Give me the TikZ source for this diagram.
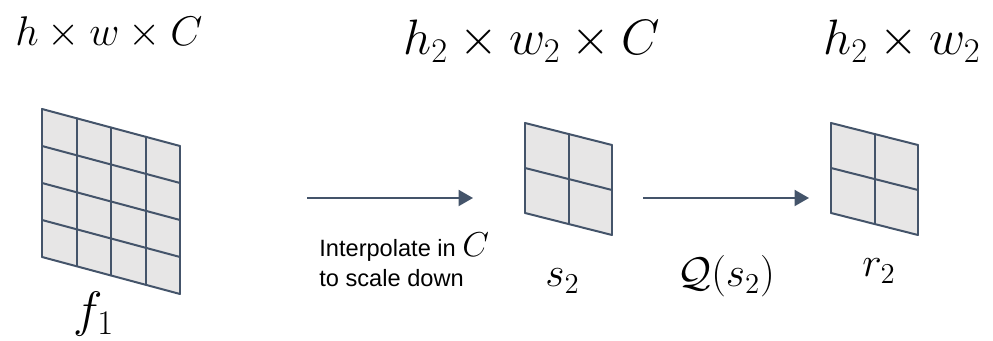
\documentclass[tikz,border=0pt]{standalone}
\usepackage{fontspec}
\newfontfamily\arialfont{Liberation Sans}
\usetikzlibrary{arrows.meta}
\definecolor{gridcol}{HTML}{44546A}
\definecolor{cellcol}{HTML}{E7E6E6}
\tikzset{
  gridline/.style={draw=gridcol, line width=1pt, line cap=round},
  gridfill/.style={fill=cellcol},
  flowarrow/.style={draw=gridcol, line width=1pt, -{Triangle[length=7.2pt,width=8pt]}},
  topmath/.style={anchor=base west, inner sep=0pt, font=\fontsize{22.8pt}{26pt}\selectfont},
  bigmath/.style={anchor=base west, inner sep=0pt, font=\fontsize{24.3pt}{28pt}\selectfont},
  midmath/.style={anchor=base west, inner sep=0pt, font=\fontsize{22pt}{26pt}\selectfont},
  captext/.style={anchor=base west, inner sep=0pt, align=left, font=\arialfont\fontsize{11.8pt}{15pt}\selectfont}
}
\newcommand{\featgrid}[6]{%
  \fill[gridfill] (#1,#2) -- (#1+#3,#2+#5) -- (#1+#3,#2+#5+#4) -- (#1,#2+#4) -- cycle;
  \foreach \i in {0,...,#6} {
    \draw[gridline] ({#1+\i*#3/#6},{#2+\i*#5/#6}) -- ++(0,#4);
    \draw[gridline] ({#1},{#2+\i*#4/#6}) -- ++(#3,#5);
  }
}
\begin{document}
\begin{tikzpicture}[x=0.5pt,y=-0.5pt]
\useasboundingbox (0,0) rectangle (993,341);
% grids
\featgrid{42}{109}{138}{148}{37}{4}
\featgrid{525}{123}{87}{90}{22}{2}
\featgrid{831}{123}{87}{90}{22}{2}
% labels
\node[topmath] (dimf) at (15,46) {$h\times w\times C$};
\node[bigmath] (dims) at (403,55) {$h_2\times w_2\times C$};
\node[bigmath] (dimr) at (823,55) {$h_2\times w_2$};
\node[midmath, font=\fontsize{24pt}{28pt}\selectfont] (lf) at (73,327) {$f_1$};
\node[midmath] (ls) at (545,287) {$s_2$};
\node[midmath] (lq) at (677,287) {$\mathcal{Q}(s_2)$};
\node[midmath] (lr) at (862,277) {$r_2$};
\node[captext] (interp) at (319,257) {Interpolate in {\fontsize{18pt}{20pt}\selectfont$C$}};
\node[captext] (scale) at (319,287) {to scale down};
% arrows
\coordinate (a1s) at (307,198);
\coordinate (a1e) at (473,198);
\coordinate (a2s) at (643,198);
\coordinate (a2e) at (809,198);
\draw[flowarrow] (a1s) -- (a1e);
\draw[flowarrow] (a2s) -- (a2e);
\end{tikzpicture}
\end{document}
